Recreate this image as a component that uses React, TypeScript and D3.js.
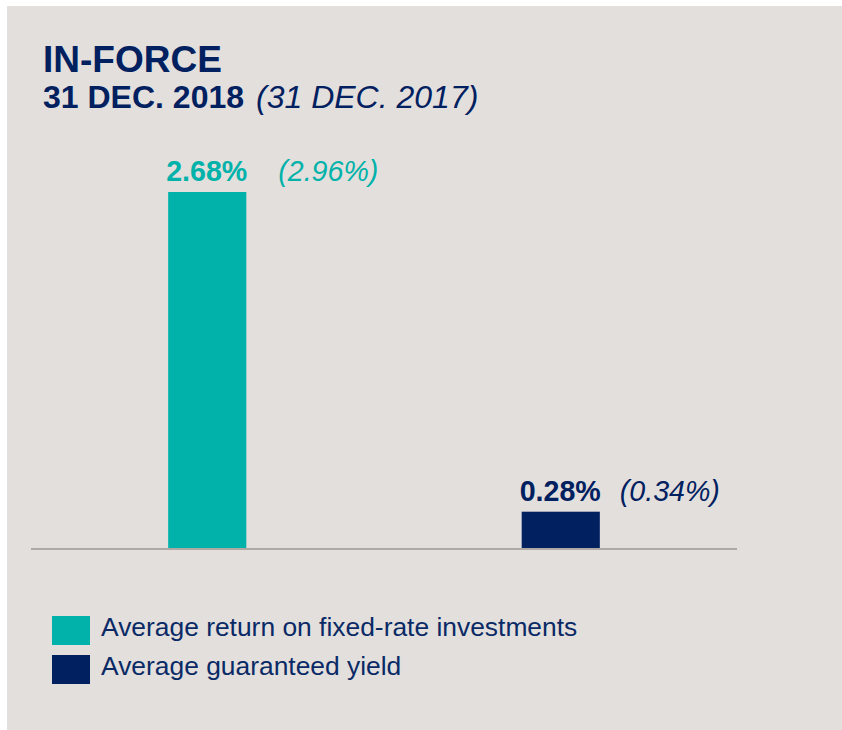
import React from 'react';
import * as d3 from 'd3';

// chart values
const categories = ['Average return on fixed-rate investments', 'Average guaranteed yield'];
const values2018 = [2.68, 0.28];
const values2017 = [2.96, 0.34];
const seriesColors = ['#00b2a9', '#002060'];
const prevGap = [31, 19];

const title = 'IN-FORCE';
const subtitleMain = '31 DEC. 2018';
const subtitlePrev = '(31 DEC. 2017)';

const W = 842;
const H = 730;
const FONT = '"Liberation Sans", Arial, sans-serif';

const App: React.FC = () => {
  const baseline = 549;

  const x = d3.scaleBand<string>()
    .domain(categories)
    .range([31, 737])
    .paddingInner(0.779)
    .paddingOuter(0.388);

  const y = d3.scaleLinear()
    .domain([0, 2.68])
    .range([baseline, 192]);

  const fmt = (v: number) => `${v.toFixed(2)}%`;

  return (
    <svg width={W} height={H} style={{ position: 'absolute', left: 0, top: 0 }} fontFamily={FONT}>
      <rect x={0} y={0} width={W} height={H} fill="#ffffff" />
      <rect x={7} y={6} width={835} height={724} fill="#e3dfdd" />

      {/* title */}
      <text x={43} y={72} fontSize={37} fontWeight="bold" fill="#002060">{title}</text>
      <text x={43} y={108} fontSize={32} fill="#002060">
        <tspan fontWeight="bold">{subtitleMain}</tspan>
        <tspan fontStyle="italic" dx={12}>{subtitlePrev}</tspan>
      </text>

      {/* bars */}
      {categories.map((c, i) => (
        <rect
          key={c}
          x={x(c)}
          y={y(values2018[i])}
          width={x.bandwidth()}
          height={baseline - y(values2018[i])}
          fill={seriesColors[i]}
        />
      ))}

      {/* value labels */}
      {categories.map((c, i) => (
        <text key={c} x={(x(c) || 0) - 2} y={y(values2018[i]) - 11} fontSize={28.6} fill={seriesColors[i]}>
          <tspan fontWeight="bold">{fmt(values2018[i])}</tspan>
          <tspan fontStyle="italic" dx={prevGap[i]}>{`(${fmt(values2017[i])})`}</tspan>
        </text>
      ))}

      {/* baseline */}
      <line x1={31} x2={737} y1={baseline} y2={baseline} stroke="#b0a8a2" strokeWidth={2} />

      {/* legend */}
      {categories.map((c, i) => (
        <g key={c} transform={`translate(52,${616 + i * 39})`}>
          <rect x={0} y={0} width={38} height={29} fill={seriesColors[i]} />
          <text x={49} y={20} fontSize={26.4} fill="#0a2a66">{c}</text>
        </g>
      ))}
    </svg>
  );
};

export default App;
